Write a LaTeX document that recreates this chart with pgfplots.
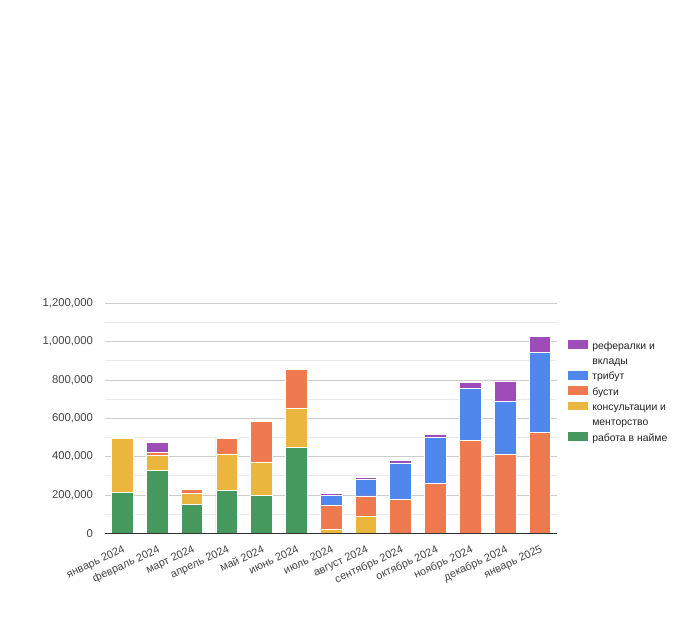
\documentclass[border=0pt]{standalone}
\usepackage{fontspec}
\setmainfont{Liberation Sans}
\usepackage{pgfplots}
\pgfplotsset{compat=1.18}
\definecolor{cGreen}{HTML}{45995E}
\definecolor{cYellow}{HTML}{EBB63E}
\definecolor{cOrange}{HTML}{EF7A4F}
\definecolor{cBlue}{HTML}{5087EC}
\definecolor{cPurple}{HTML}{9E4DB8}
\definecolor{cTxt}{HTML}{444444}
\definecolor{cLeg}{HTML}{222222}
\definecolor{cBase}{HTML}{333333}
\definecolor{cMaj}{HTML}{CCCCCC}
\definecolor{cMin}{HTML}{EBEBEB}
\pgfplotsset{sq/.style={legend image code/.code={\fill[##1] (0pt,0pt) rectangle (15pt,6.5pt);}}}
\pgfplotstableread{
x green yellow orange blue purple
0  214000 279000      0      0   5000
1  330000  78000  14000      0  52000
2  151000  58000  21000      0   5000
3  222000 192000  80000      0   5000
4  198000 172000 214000      0   3000
5  449000 203000 205000      0   5000
6       0  21000 127000  48000  11000
7       0  87000 108000  87000  10000
8       0      0 179000 188000  14000
9       0      0 259000 243000  15000
10      0      0 483000 275000  30000
11      0      0 410000 279000 106000
12      0      0 525000 417000  86000
}\datatable
\begin{document}
\begin{tikzpicture}
\path[use as bounding box] (0,0) rectangle (522pt,472.5pt);
\begin{axis}[
  name=ax,
  at={(78.75pt,72.5pt)}, anchor=south west,
  scale only axis, width=339.2pt, height=172.5pt,
  ybar stacked, bar width=0.624,
  xmin=-0.5, xmax=12.5, ymin=0, ymax=1200000,
  xtick={0,...,12},
  xticklabels={январь 2024, февраль 2024, март 2024, апрель 2024, май 2024, июнь 2024, июль 2024, август 2024, сентябрь 2024, октябрь 2024, ноябрь 2024, декабрь 2024, январь 2025},
  ytick={0,200000,...,1200000},
  minor ytick={100000,300000,...,1100000},
  ymajorgrids, yminorgrids,
  major grid style={draw=cMaj, line width=0.6pt},
  minor grid style={draw=cMin, line width=0.6pt},
  axis line style={draw=none},
  major tick length=0pt, minor tick length=0pt,
  tick style={draw=none},
  scaled y ticks=false,
  yticklabel style={/pgf/number format/fixed, /pgf/number format/assume math mode=true,
     font=\fontsize{8.5}{10}\selectfont, text=cTxt, anchor=east, inner sep=0pt, xshift=-8.8pt},
  xticklabel style={font=\fontsize{8.2}{9.8}\selectfont, text=cTxt, yshift=-8.3pt, rotate=25, anchor=north east, inner sep=0pt},
  every axis plot/.append style={draw=white, line width=0.6pt},
  legend style={draw=none, fill=none, at={(1.0243,0.839)}, anchor=north west,
     inner sep=0pt, outer sep=0pt, row sep=2.8pt, column sep=0pt,
     font=\fontsize{7.8}{9.5}\selectfont, text=cLeg,
     cells={anchor=base west},
     nodes={inner xsep=3pt, inner ysep=0pt, text height=6.5pt, text depth=2.2pt}},
]
\addplot[fill=cGreen, forget plot] table[x=x, y=green] {\datatable};
\addplot[fill=cYellow, forget plot] table[x=x, y=yellow] {\datatable};
\addplot[fill=cOrange, forget plot] table[x=x, y=orange] {\datatable};
\addplot[fill=cBlue, forget plot] table[x=x, y=blue] {\datatable};
\addplot[fill=cPurple, forget plot] table[x=x, y=purple] {\datatable};
\addlegendimage{sq, fill=cPurple, draw=none}
\addlegendentry{рефералки и}
\addlegendimage{empty legend}
\addlegendentry{вклады}
\addlegendimage{sq, fill=cBlue, draw=none}
\addlegendentry{трибут}
\addlegendimage{sq, fill=cOrange, draw=none}
\addlegendentry{бусти}
\addlegendimage{sq, fill=cYellow, draw=none}
\addlegendentry{консультации и}
\addlegendimage{empty legend}
\addlegendentry{менторство}
\addlegendimage{sq, fill=cGreen, draw=none}
\addlegendentry{работа в найме}
\end{axis}
\draw[cBase, line width=0.75pt] (ax.south west) -- (ax.south east);
\end{tikzpicture}
\end{document}
